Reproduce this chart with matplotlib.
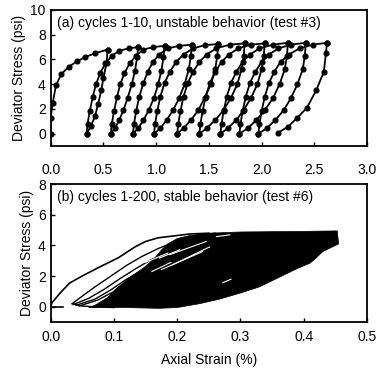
import matplotlib
matplotlib.use("Agg")
import matplotlib.pyplot as plt

plt.rcParams['font.family'] = ['Liberation Sans', 'DejaVu Sans']

# ---- (a) cycles 1-10, unstable behavior: loading / unloading branches ----
load_x = [
    [0.0, 0.0, 0.02, 0.05, 0.10, 0.17, 0.25, 0.33, 0.42, 0.54],
    [0.34, 0.35, 0.37, 0.40, 0.43, 0.47, 0.52, 0.58, 0.65, 0.74, 0.83],
    [0.57, 0.58, 0.60, 0.63, 0.66, 0.70, 0.75, 0.81, 0.88, 0.97, 1.08],
    [0.78, 0.79, 0.81, 0.84, 0.88, 0.92, 0.97, 1.03, 1.11, 1.22, 1.34],
    [0.98, 0.99, 1.01, 1.04, 1.08, 1.13, 1.19, 1.26, 1.35, 1.46, 1.59],
    [1.20, 1.21, 1.23, 1.26, 1.30, 1.35, 1.41, 1.48, 1.57, 1.70, 1.84],
    [1.41, 1.42, 1.44, 1.47, 1.51, 1.56, 1.62, 1.69, 1.78, 1.90, 2.03],
    [1.61, 1.62, 1.64, 1.67, 1.71, 1.76, 1.82, 1.89, 1.98, 2.11, 2.25],
    [1.79, 1.80, 1.82, 1.85, 1.89, 1.94, 2.00, 2.07, 2.16, 2.28, 2.42],
    [1.97, 1.98, 2.00, 2.03, 2.07, 2.12, 2.18, 2.26, 2.36, 2.49, 2.62],
]
load_y = [
    [0.0, 1.3, 2.5, 3.9, 4.8, 5.4, 5.85, 6.2, 6.5, 6.8],
    [0.0, 0.8, 1.8, 3.0, 4.0, 4.9, 5.7, 6.3, 6.7, 6.9, 7.0],
    [0.0, 0.8, 1.8, 3.0, 4.0, 4.9, 5.7, 6.3, 6.8, 7.0, 7.1],
    [0.0, 0.8, 1.8, 3.0, 4.1, 5.0, 5.8, 6.4, 6.9, 7.1, 7.2],
    [0.0, 0.8, 1.8, 3.0, 4.1, 5.0, 5.8, 6.4, 6.9, 7.15, 7.25],
    [0.0, 0.8, 1.8, 3.0, 4.1, 5.0, 5.8, 6.4, 6.9, 7.2, 7.3],
    [0.0, 0.8, 1.8, 3.0, 4.1, 5.0, 5.8, 6.4, 6.9, 7.2, 7.3],
    [0.0, 0.8, 1.8, 3.0, 4.1, 5.0, 5.8, 6.4, 6.9, 7.2, 7.35],
    [0.0, 0.8, 1.8, 3.0, 4.1, 5.0, 5.8, 6.4, 6.9, 7.2, 7.35],
    [0.0, 0.8, 1.8, 3.0, 4.1, 5.0, 5.8, 6.4, 6.9, 7.2, 7.35],
]
unload_x = [
    [0.54, 0.53, 0.50, 0.48, 0.45, 0.42, 0.38, 0.34],
    [0.83, 0.82, 0.80, 0.77, 0.73, 0.69, 0.65, 0.61, 0.57],
    [1.08, 1.07, 1.05, 1.02, 0.98, 0.93, 0.88, 0.83, 0.78],
    [1.34, 1.33, 1.31, 1.27, 1.22, 1.16, 1.10, 1.04, 0.98],
    [1.59, 1.58, 1.56, 1.52, 1.46, 1.40, 1.33, 1.26, 1.20],
    [1.84, 1.83, 1.81, 1.77, 1.71, 1.64, 1.56, 1.48, 1.41],
    [2.03, 2.02, 2.00, 1.96, 1.90, 1.83, 1.76, 1.68, 1.61],
    [2.25, 2.24, 2.22, 2.17, 2.11, 2.03, 1.95, 1.87, 1.79],
    [2.42, 2.41, 2.39, 2.34, 2.28, 2.21, 2.13, 2.05, 1.97],
    [2.62, 2.61, 2.59, 2.52, 2.43, 2.34, 2.25, 2.16],
]
unload_y = [
    [6.8, 5.7, 4.5, 3.5, 2.4, 1.4, 0.6, 0.0],
    [7.0, 6.2, 5.1, 4.0, 2.9, 1.9, 1.1, 0.45, 0.0],
    [7.1, 6.2, 5.1, 4.0, 2.9, 1.9, 1.1, 0.45, 0.0],
    [7.2, 6.3, 5.2, 4.0, 2.9, 1.9, 1.1, 0.45, 0.0],
    [7.25, 6.3, 5.2, 4.0, 2.9, 1.9, 1.1, 0.45, 0.0],
    [7.3, 6.3, 5.2, 4.0, 2.9, 1.9, 1.1, 0.45, 0.0],
    [7.3, 6.3, 5.2, 4.0, 2.9, 1.9, 1.1, 0.45, 0.0],
    [7.35, 6.3, 5.2, 4.0, 2.9, 1.9, 1.1, 0.45, 0.0],
    [7.35, 6.3, 5.2, 4.0, 2.9, 1.9, 1.1, 0.45, 0.0],
    [7.35, 6.5, 5.0, 3.55, 2.1, 1.3, 0.56, 0.1],
]

# ---- (b) cycles 1-200, stable behavior ----
first_x = [0.0, 0.002, 0.015, 0.03, 0.054, 0.08, 0.107, 0.133, 0.15, 0.17, 0.19, 0.22, 0.25]
first_y = [0.0, 0.26, 0.9, 1.55, 2.1, 2.65, 3.2, 3.9, 4.26, 4.5, 4.6, 4.75, 4.8]

blob_x = [0.06, 0.07, 0.09, 0.104, 0.128, 0.149, 0.165, 0.175, 0.185, 0.20, 0.22, 0.25,
          0.30, 0.35, 0.40, 0.453, 0.455, 0.43, 0.42, 0.41, 0.39, 0.37, 0.35, 0.33,
          0.30, 0.267, 0.235, 0.20, 0.17, 0.12, 0.06]
blob_y = [-0.05, 0.1, 0.6, 1.2, 2.0, 2.6, 3.2, 3.7, 4.1, 4.45, 4.65, 4.8,
          4.88, 4.9, 4.92, 4.95, 4.1, 3.6, 3.2, 2.85, 2.5, 2.1, 1.7, 1.3,
          0.9, 0.5, 0.2, -0.05, -0.1, -0.05, -0.05]

loops_x = [
    [0.034, 0.05, 0.07, 0.095, 0.12, 0.145, 0.17, 0.20, 0.23, 0.26],
    [0.036, 0.06, 0.085, 0.11, 0.135, 0.16, 0.19, 0.22],
    [0.04, 0.07, 0.095, 0.12, 0.15, 0.18],
    [0.045, 0.075, 0.10, 0.13, 0.16],
    [0.034, 0.05, 0.07, 0.10],
]
loops_y = [
    [0.2, 0.7, 1.3, 2.0, 2.7, 3.3, 3.8, 4.3, 4.65, 4.8],
    [0.15, 0.55, 1.15, 1.85, 2.5, 3.1, 3.65, 4.2],
    [0.1, 0.5, 1.1, 1.8, 2.5, 3.1],
    [0.05, 0.45, 1.0, 1.75, 2.5],
    [0.2, 0.05, 0.0, -0.05],
]

streak_x = [[0.175, 0.24], [0.193, 0.251], [0.188, 0.246], [0.172, 0.204],
            [0.262, 0.283], [0.272, 0.285], [0.15, 0.185], [0.16, 0.19]]
streak_y = [[2.43, 3.6], [2.74, 3.9], [3.4, 4.26], [3.18, 3.72],
            [4.58, 4.69], [1.57, 1.8], [2.9, 3.5], [2.3, 2.9]]

fig = plt.figure(figsize=(3.78, 3.69), dpi=100)
ax1 = fig.add_axes([0.134, 0.604, 0.837, 0.369])
ax2 = fig.add_axes([0.134, 0.127, 0.837, 0.374])

for xs, ys in zip(load_x, load_y):
    ax1.plot(xs, ys, color='black', lw=1.3, marker='o', ms=3.4)
for xs, ys in zip(unload_x, unload_y):
    ax1.plot(xs, ys, color='black', lw=1.3, marker='o', ms=3.4)
ax1.plot([0, 0.02], [0, 0], color='black', lw=1.3)

ax1.set_xlim(0, 3)
ax1.set_ylim(-1, 10)
ax1.set_xticks([0, 0.5, 1.0, 1.5, 2.0, 2.5, 3.0])
ax1.set_xticklabels(['0.0', '0.5', '1.0', '1.5', '2.0', '2.5', '3.0'])
ax1.set_yticks([0, 2, 4, 6, 8, 10])
ax1.set_ylabel('Deviator Stress (psi)', fontsize=10, labelpad=3)
ax1.text(0.02, 0.905, '(a) cycles 1-10, unstable behavior (test #3)',
         transform=ax1.transAxes, fontsize=10, va='center', ha='left')
ax1.tick_params(axis='x', pad=12)

ax2.fill(blob_x, blob_y, color='black', lw=0.5)
ax2.plot(first_x, first_y, color='black', lw=1.2)
ax2.plot([0, 0.02], [0, 0], color='black', lw=1.2)
for xs, ys in zip(loops_x, loops_y):
    ax2.plot(xs, ys, color='black', lw=1.0)
for xs, ys in zip(streak_x, streak_y):
    ax2.plot(xs, ys, color='white', lw=0.8)

ax2.set_xlim(0, 0.5)
ax2.set_ylim(-1, 8)
ax2.set_xticks([0, 0.1, 0.2, 0.3, 0.4, 0.5])
ax2.set_xticklabels(['0.0', '0.1', '0.2', '0.3', '0.4', '0.5'])
ax2.set_yticks([0, 2, 4, 6, 8])
ax2.set_ylabel('Deviator Stress (psi)', fontsize=10, labelpad=3)
ax2.set_xlabel('Axial Strain (%)', fontsize=10, labelpad=6)
ax2.text(0.02, 0.905, '(b) cycles 1-200, stable behavior (test #6)',
         transform=ax2.transAxes, fontsize=10, va='center', ha='left')
ax2.tick_params(axis='x', pad=6)

for ax in (ax1, ax2):
    ax.tick_params(direction='in', length=3, width=1, labelsize=10, top=False, right=False)
    for sp in ax.spines.values():
        sp.set_linewidth(1.3)

fig.savefig('out.png', dpi=100)
